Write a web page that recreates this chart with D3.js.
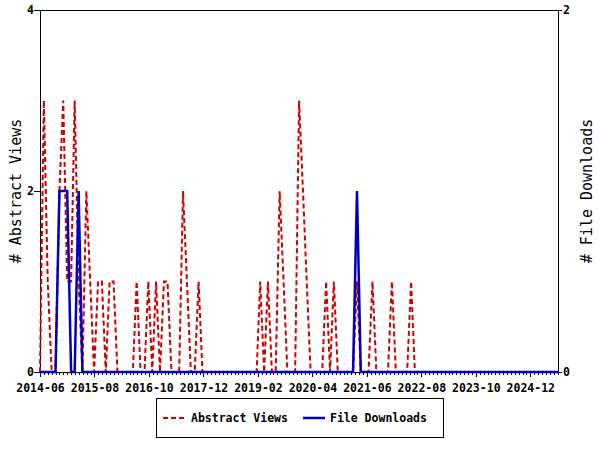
<!DOCTYPE html>
<html><head><meta charset="utf-8">
<script src="https://cdn.jsdelivr.net/npm/d3@7"></script>
<style>
body{margin:0;background:#fff}
text{font-family:"DejaVu Sans Mono","Liberation Mono",monospace}
</style>
</head><body>
<svg id="c" width="600" height="450"></svg>
<script>
// ---------- data ----------
// monthly categories 2014-06 .. 2025-08
const months = d3.timeMonth.range(new Date(2014,5,1), new Date(2025,8,1)).map(d3.timeFormat("%Y-%m"));
const abstractViews = [
 0,3,1,0,0,2,3,1,1,3, 1,0,2,1,0,1,1,0,1,1,
 0,0,0,0,0,1,0,0,1,0, 1,0,1,1,0,0,0,2,1,0,
 0,1,0,0,0,0,0,0,0,0, 0,0,0,0,0,0,0,1,0,1,
 0,0,2,1,0,0,0,3,2,1, 0,0,0,0,1,0,1,0,0,0,
 0,0,1,0,0,0,1,0,0,0, 0,1,0,0,0,0,1,0,0,0,
 0,0,0,0,0,0,0,0,0,0, 0,0,0,0,0,0,0,0,0,0,
 0,0,0,0,0,0,0,0,0,0, 0,0,0,0,0
];
const fileDownloads = [
 0,0,0,0,0,1,1,1,0,0, 1,0,0,0,0,0,0,0,0,0,
 0,0,0,0,0,0,0,0,0,0, 0,0,0,0,0,0,0,0,0,0,
 0,0,0,0,0,0,0,0,0,0, 0,0,0,0,0,0,0,0,0,0,
 0,0,0,0,0,0,0,0,0,0, 0,0,0,0,0,0,0,0,0,0,
 0,0,1,0,0,0,0,0,0,0, 0,0,0,0,0,0,0,0,0,0,
 0,0,0,0,0,0,0,0,0,0, 0,0,0,0,0,0,0,0,0,0,
 0,0,0,0,0,0,0,0,0,0, 0,0,0,0,0
];
const xTickLabels = ["2014-06","2015-08","2016-10","2017-12","2019-02","2020-04","2021-06","2022-08","2023-10","2024-12"];
const leftTicks = [0,2,4];
const rightTicks = [0,2];
const seriesNames = ["Abstract Views","File Downloads"];
const leftTitle = "# Abstract Views";
const rightTitle = "# File Downloads";

// ---------- layout ----------
const L=40, R=558, T=10, B=372;
const parse = d3.timeParse("%Y-%m");
const dates = months.map(parse);
const x = d3.scaleTime().domain([dates[0], dates[dates.length-1]]).range([L,R]);
const yL = d3.scaleLinear().domain([0,4]).range([B,T]);
const yR = d3.scaleLinear().domain([0,2]).range([B,T]);
const tickStepDays = 429;
const majorDates = xTickLabels.map((_,i)=>d3.timeDay.offset(dates[0], i*tickStepDays));
const minorDates = [];
for(let k=0;;k++){const d=new Date(+dates[0]+k*tickStepDays/14*864e5); if(d>dates[dates.length-1])break; if(k%14) minorDates.push(d);}

const svg = d3.select("#c");
const RED="#cc0000", BLUE="#0000c0";
const tickFont = "bold 11.5px 'DejaVu Sans Mono'";

// border
svg.append("rect").attr("x",L+0.5).attr("y",T+0.5).attr("width",R-L).attr("height",B-T)
  .attr("fill","none").attr("stroke","#000").attr("stroke-width",1).attr("shape-rendering","crispEdges");

// axes
function styleAxis(g){
  g.select(".domain").remove();
  g.selectAll("line").attr("stroke","#000").attr("shape-rendering","crispEdges");
  g.selectAll("text").attr("fill","#000").style("font",tickFont);
}
svg.append("g").attr("transform",`translate(0,${B})`)
  .call(d3.axisBottom(x).tickValues(minorDates).tickSize(3).tickFormat(""))
  .call(styleAxis);
svg.append("g").attr("transform",`translate(0,${B})`)
  .call(d3.axisBottom(x).tickValues(majorDates).tickSize(5).tickPadding(7).tickFormat((d,i)=>xTickLabels[i]))
  .call(styleAxis);
svg.append("g").attr("transform",`translate(${L},0)`)
  .call(d3.axisLeft(yL).tickValues(leftTicks).tickSize(6).tickPadding(0).tickFormat(d3.format("d")))
  .call(styleAxis);
svg.append("g").attr("transform",`translate(${R},0)`)
  .call(d3.axisRight(yR).tickValues(rightTicks).tickSize(4).tickPadding(1).tickFormat(d3.format("d")))
  .call(styleAxis);

// lines
const lineL = d3.line().x((d,i)=>x(dates[i])).y(d=>yL(d));
const lineR = d3.line().x((d,i)=>x(dates[i])).y(d=>yR(d));
svg.append("path").attr("d",lineL(abstractViews)).attr("fill","none").attr("stroke",RED)
  .attr("stroke-width",2).attr("stroke-dasharray","5,3");
svg.append("path").attr("d",lineR(fileDownloads)).attr("fill","none").attr("stroke",BLUE)
  .attr("stroke-width",2.5).attr("stroke-linejoin","miter");

// axis titles
svg.append("text").attr("transform","translate(16,191) rotate(-90)").attr("text-anchor","middle")
  .attr("dy","0.35em").style("font-size","15px").text(leftTitle);
svg.append("text").attr("transform","translate(587,191) rotate(-90)").attr("text-anchor","middle")
  .attr("dy","0.35em").style("font-size","15px").text(rightTitle);

// legend
const lg = svg.append("g");
lg.append("rect").attr("x",156.5).attr("y",398.5).attr("width",287).attr("height",39)
  .attr("fill","#fff").attr("stroke","#000").attr("shape-rendering","crispEdges");
const items=[{name:seriesNames[0],c:RED,dash:"5,3",w:2,x0:163,x1:184,tx:191},
             {name:seriesNames[1],c:BLUE,dash:null,w:2.5,x0:303,x1:325,tx:330}];
items.forEach(it=>{
  lg.append("line").attr("x1",it.x0).attr("x2",it.x1).attr("y1",418).attr("y2",418)
    .attr("stroke",it.c).attr("stroke-width",it.w).attr("stroke-dasharray",it.dash);
  lg.append("text").attr("x",it.tx).attr("y",422).style("font",tickFont).text(it.name);
});
</script>
</body></html>
